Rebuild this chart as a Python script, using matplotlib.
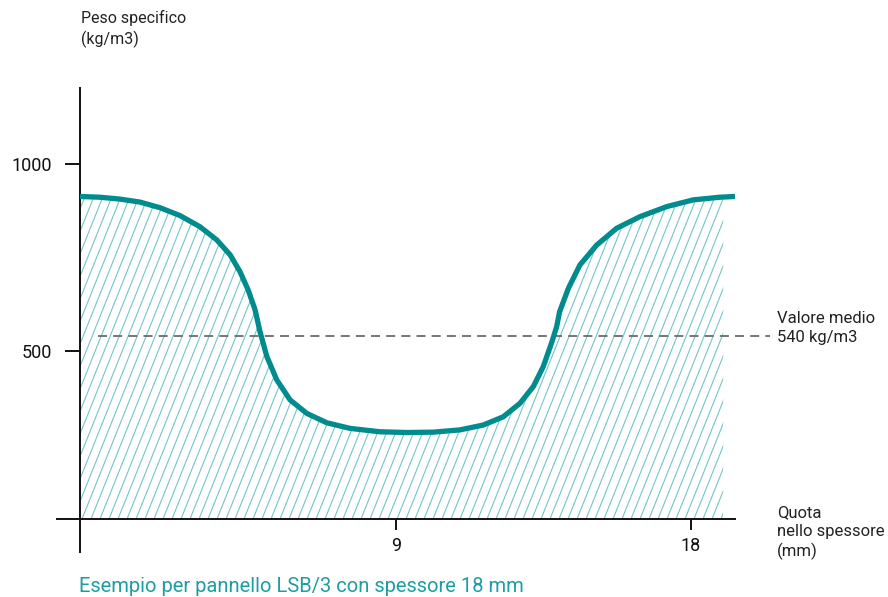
import numpy as np
import matplotlib
matplotlib.use("Agg")
import matplotlib.pyplot as plt
from matplotlib.patches import Polygon
from matplotlib.collections import LineCollection

plt.rcParams['font.family'] = ['Roboto', 'DejaVu Sans']

# ---- data ----
thickness = [-0.64, -0.03, 0.58, 1.19, 1.80, 2.41, 3.02, 3.53, 3.94, 4.24,
             4.49, 4.70, 4.85, 5.06, 5.36, 5.77, 6.28, 6.89, 7.60, 8.51,
             9.33, 10.14, 10.95, 11.66, 12.27, 12.78, 13.19, 13.49, 13.75, 13.90,
             13.99, 14.26, 14.61, 15.12, 15.73, 16.44, 17.26, 18.07, 18.88, 19.34]
density = [913, 911, 906, 898, 883, 862, 832, 797, 757, 712,
           663, 610, 552, 485, 423, 369, 333, 308, 293, 284,
           282, 283, 289, 302, 324, 360, 405, 458, 523, 565,
           605, 668, 730, 783, 828, 859, 886, 904, 911, 913]
mean_value = 540
x_ticks = [9, 18]
x_ticklabels = ["9", "18"]
y_ticks = [500, 1000]
y_ticklabels = ["500", "1000"]
y_label = "Peso specifico\n(kg/m3)"
x_label = "Quota\nnello spessore\n(mm)"
mean_label = "Valore medio\n540 kg/m3"
caption = "Esempio per pannello LSB/3 con spessore 18 mm"

W, H = 888, 597
fig = plt.figure(figsize=(W / 100, H / 100), dpi=100)

def fx(px):
    return px / W

def fy(py):
    return 1 - py / H

ax_l, ax_r, ax_t, ax_b = 80, 735, 88, 519
ax = fig.add_axes([fx(ax_l), fy(ax_b), fx(ax_r) - fx(ax_l), fy(ax_t) - fy(ax_b)])
xmin, xmax = -0.64, 19.34
ymin, ymax = 50.8, 1203
ax.set_xlim(xmin, xmax)
ax.set_ylim(ymin, ymax)
ax.patch.set_alpha(0)

CURVE = "#008b8e"
HATCH = "#72c6c9"

# filled region (clip path for hatching)
fill_right = 18.98
xs = [x for x in thickness if x <= fill_right] + [fill_right]
ys = list(np.interp(xs, thickness, density))
verts = list(zip(xs, ys)) + [(fill_right, ymin), (xmin, ymin)]
poly = Polygon(verts, closed=True, facecolor="none", edgecolor="none", transform=ax.transData)
ax.add_patch(poly)

# steep hatch lines drawn in axes coordinates
ax_w_px = ax_r - ax_l
ax_h_px = ax_b - ax_t
slope_px = 2.5
spacing_px = 9.0
dx_axes = (ax_h_px / slope_px) / ax_w_px
segs = []
u = -1.0
while u < 1.5:
    segs.append([(u, 0), (u + dx_axes, 1)])
    u += spacing_px / ax_w_px
lc = LineCollection(segs, colors=HATCH, linewidths=0.8, transform=ax.transAxes, zorder=1)
lc.set_clip_path(poly)
ax.add_collection(lc)

# curve
ax.plot(thickness, density, color=CURVE, lw=3.8, solid_joinstyle="round",
        solid_capstyle="butt", zorder=3, clip_on=False)

# mean dashed line
ax.plot([-0.1, 20.4], [mean_value, mean_value], color="#6b6b6b", lw=1.3,
        dashes=(5, 3.4), zorder=2, clip_on=False)

# spines
for s in ["top", "right"]:
    ax.spines[s].set_visible(False)
ax.spines["left"].set_bounds(-37, ymax)
ax.spines["bottom"].set_bounds(-1.34, xmax)
for s in ["left", "bottom"]:
    ax.spines[s].set_linewidth(1.4)
    ax.spines[s].set_color("#111111")

ax.set_xticks(x_ticks)
ax.set_xticklabels(x_ticklabels)
ax.set_yticks(y_ticks)
ax.set_yticklabels(y_ticklabels)
ax.tick_params(axis="y", direction="out", length=11, width=1.4, pad=9, labelsize=13, colors="#111111")
ax.tick_params(axis="x", direction="out", length=8, width=1.4, pad=5, labelsize=13, colors="#111111")

# texts
fig.text(fx(81), fy(10), y_label, ha="left", va="top", fontsize=11.5, color="#222222", linespacing=1.35)
fig.text(fx(777), fy(311), mean_label, ha="left", va="top", fontsize=12, color="#222222", linespacing=1.3)
fig.text(fx(777), fy(505), x_label, ha="left", va="top", fontsize=12, color="#222222", linespacing=1.3)
fig.text(fx(79), fy(587), caption, ha="left", va="center", fontsize=14.5, color="#1d9ea3")

fig.savefig("out.png", dpi=100)
